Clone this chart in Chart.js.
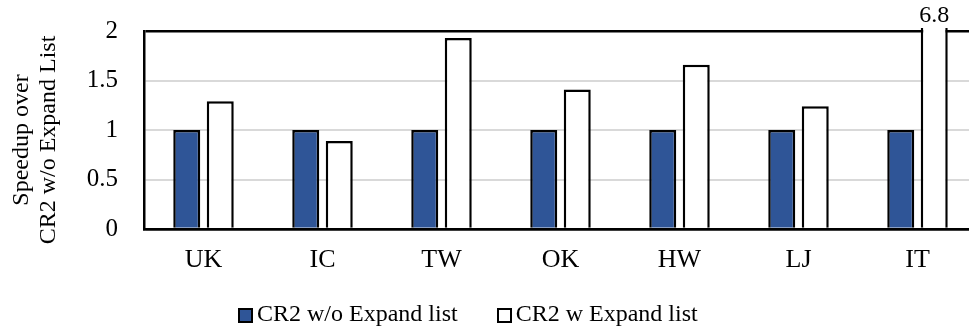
<!DOCTYPE html>
<html>
<head>
<meta charset="utf-8">
<script src="https://cdn.jsdelivr.net/npm/chart.js@4.4.1/dist/chart.umd.min.js"></script>
<style>
  html, body { margin: 0; padding: 0; background: #fff; overflow: hidden; width: 969px; height: 328px; }
  #wrap { position: relative; width: 980px; height: 328px; }
  #c { display: block; }
  #legend { position: absolute; left: 238px; top: 299px; font-family: "Liberation Serif", "Times New Roman", serif; font-size: 24px; line-height: 28px; color: #000; white-space: nowrap; }
  .item { display: inline-block; }
  .item + .item { margin-left: 39px; }
  .sw { display: inline-block; width: 15px; height: 15px; box-sizing: border-box; border: 2px solid #000; margin-right: 4px; vertical-align: -2px; }
</style>
</head>
<body>
<div id="wrap">
  <canvas id="c" width="980" height="328"></canvas>
  <div id="legend"></div>
</div>
<script>
const categories = ['UK', 'IC', 'TW', 'OK', 'HW', 'LJ', 'IT'];
const seriesNames = ['CR2 w/o Expand list', 'CR2 w Expand list'];
const withoutExpand = [1, 1, 1, 1, 1, 1, 1];
const withExpand = [1.29, 0.89, 1.93, 1.41, 1.66, 1.24, 6.8];
const yTicks = [0, 0.5, 1, 1.5, 2];
const yTickLabels = ['0', '0.5', '1', '1.5', '2'];
const yTitle = ['Speedup over', 'CR2 w/o Expand List'];
const seriesColors = ['#2F5597', '#FFFFFF'];

const FONT = '"Liberation Serif", "Times New Roman", serif';

// value label for bars that run past the top of the value axis
const overflowLabel = {
  id: 'overflowLabel',
  afterDatasetsDraw(chart) {
    const yMax = chart.scales.y.max;
    const ctx = chart.ctx;
    chart.data.datasets.forEach((ds, i) => {
      const meta = chart.getDatasetMeta(i);
      meta.data.forEach((bar, j) => {
        if (ds.data[j] > yMax) {
          ctx.save();
          ctx.font = '24px ' + FONT;
          ctx.fillStyle = '#000';
          ctx.textAlign = 'center';
          ctx.textBaseline = 'alphabetic';
          ctx.fillText(String(ds.data[j]), bar.x, chart.chartArea.top - 9);
          ctx.restore();
        }
      });
    });
  }
};

// two-line rotated value-axis title
const yTitlePlugin = {
  id: 'yTitlePlugin',
  afterDraw(chart) {
    const ctx = chart.ctx;
    const ca = chart.chartArea;
    ctx.save();
    ctx.translate(0, (ca.top + ca.bottom) / 2 + 10);
    ctx.rotate(-Math.PI / 2);
    ctx.font = '24px ' + FONT;
    ctx.fillStyle = '#000';
    ctx.textAlign = 'center';
    ctx.textBaseline = 'middle';
    yTitle.forEach((t, i) => ctx.fillText(t, 0, 22 + i * 27));
    ctx.restore();
  }
};

new Chart(document.getElementById('c'), {
  type: 'bar',
  data: {
    labels: categories,
    datasets: [
      { label: seriesNames[0], data: withoutExpand, backgroundColor: seriesColors[0], borderColor: '#000', borderWidth: 2.5 },
      { label: seriesNames[1], data: withExpand, backgroundColor: seriesColors[1], borderColor: '#000', borderWidth: 2.5,
        clip: { left: 0, top: 3, right: 0, bottom: 0 } }
    ]
  },
  options: {
    responsive: false,
    animation: false,
    devicePixelRatio: 1,
    categoryPercentage: 0.563,
    barPercentage: 0.806,
    layout: { padding: { left: 0, top: 31, right: 3, bottom: 54 } },
    plugins: { legend: { display: false }, tooltip: { enabled: false } },
    scales: {
      x: {
        afterFit: s => { s.height = 45; s.paddingLeft = 0; s.paddingRight = 0; },
        grid: { display: false, drawTicks: false },
        border: { display: true, color: '#000', width: 2.5 },
        ticks: { color: '#000', padding: 16, font: { family: FONT, size: 26 } }
      },
      y: {
        min: 0, max: 2,
        afterBuildTicks: s => { s.ticks = yTicks.map(v => ({ value: v })); },
        afterFit: s => { s.width = 144; s.paddingTop = 0; s.paddingBottom = 0; },
        grid: {
          drawTicks: false,
          color: c => (c.tick && (c.tick.value === 2 || c.tick.value === 0)) ? '#000' : '#d9d9d9',
          lineWidth: c => (c.tick && (c.tick.value === 2 || c.tick.value === 0)) ? 2.5 : 2
        },
        border: { display: true, color: '#000', width: 2.5 },
        ticks: {
          color: '#000', padding: 26, font: { family: FONT, size: 25 },
          callback: v => yTickLabels[yTicks.indexOf(v)]
        }
      }
    }
  },
  plugins: [overflowLabel, yTitlePlugin]
});

const legend = document.getElementById('legend');
seriesNames.forEach((name, i) => {
  const item = document.createElement('span');
  item.className = 'item';
  const sw = document.createElement('span');
  sw.className = 'sw';
  sw.style.background = seriesColors[i];
  item.appendChild(sw);
  item.appendChild(document.createTextNode(name));
  legend.appendChild(item);
});
</script>
</body>
</html>
